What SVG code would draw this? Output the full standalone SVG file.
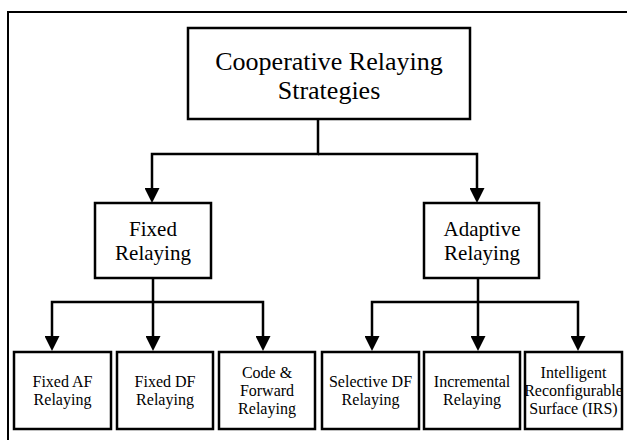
<svg xmlns="http://www.w3.org/2000/svg" width="627" height="440" viewBox="0 0 627 440">
  <style>
    .box { fill: #ffffff; stroke: #000000; stroke-width: 2.5; }
    .frame { fill: none; stroke: #000000; stroke-width: 2; }
    .link { fill: none; stroke: #000000; stroke-width: 2.5; marker-end: url(#arrow); }
    .plain { fill: none; stroke: #000000; stroke-width: 2.5; }
    text { fill: #000000; text-anchor: middle; }
    .t1 { font-size: 26px; }
    .t2 { font-size: 21px; }
    .t3 { font-size: 16px; }
  </style>
  <defs>
    <marker id="arrow" viewBox="0 0 15 15" refX="7" refY="7.5" markerWidth="15" markerHeight="15" markerUnits="userSpaceOnUse" orient="auto">
      <path d="M0,0 L15,7.5 L0,15 z" fill="#000000"/>
    </marker>
  </defs>

  <rect width="627" height="440" fill="#ffffff"/>
  <!-- border of the figure (left and top edges) -->
  <path class="frame" d="M8,440 V12 H627"/>

  <!-- connectors -->
  <g id="connectors">
    <path class="link" d="M318,119 V154 H152 V195"/>
    <path class="link" d="M318,154 H477 V195"/>
    <path class="plain" d="M153,278 V302"/>
    <path class="link" d="M153,302 H52 V343"/>
    <path class="link" d="M153,302 V343"/>
    <path class="link" d="M153,302 H263 V343"/>
    <path class="plain" d="M478,278 V302"/>
    <path class="link" d="M478,302 H372 V343"/>
    <path class="link" d="M478,302 V343"/>
    <path class="link" d="M478,302 H578 V343"/>
  </g>

  <g font-family="'Liberation Serif', 'DejaVu Serif', serif">
  <g id="root">
    <rect class="box" x="188" y="28" width="282" height="91"/>
    <text class="t1" x="329" y="70">Cooperative Relaying</text>
    <text class="t1" x="329" y="99">Strategies</text>
  </g>

  <g id="fixed">
    <rect class="box" x="95" y="203" width="116" height="75"/>
    <text class="t2" x="153" y="236">Fixed</text>
    <text class="t2" x="153" y="260">Relaying</text>
  </g>

  <g id="adaptive">
    <rect class="box" x="424" y="203" width="115" height="75"/>
    <text class="t2" x="482" y="236">Adaptive</text>
    <text class="t2" x="482" y="260">Relaying</text>
  </g>

  <g id="fixed-af">
    <rect class="box" x="14" y="352" width="97" height="77"/>
    <text class="t3" x="62.5" y="387">Fixed AF</text>
    <text class="t3" x="62.5" y="405">Relaying</text>
  </g>

  <g id="fixed-df">
    <rect class="box" x="117" y="352" width="96" height="77"/>
    <text class="t3" x="165" y="387">Fixed DF</text>
    <text class="t3" x="165" y="405">Relaying</text>
  </g>

  <g id="code-forward">
    <rect class="box" x="219" y="352" width="96" height="77"/>
    <text class="t3" x="267" y="378">Code &amp;</text>
    <text class="t3" x="267" y="396">Forward</text>
    <text class="t3" x="267" y="414">Relaying</text>
  </g>

  <g id="selective-df">
    <rect class="box" x="322" y="352" width="97" height="77"/>
    <text class="t3" x="370.5" y="387">Selective DF</text>
    <text class="t3" x="370.5" y="405">Relaying</text>
  </g>

  <g id="incremental">
    <rect class="box" x="424" y="352" width="96" height="77"/>
    <text class="t3" x="472" y="387">Incremental</text>
    <text class="t3" x="472" y="405">Relaying</text>
  </g>

  <g id="irs">
    <rect class="box" x="525" y="352" width="97" height="77"/>
    <text class="t3" x="573.5" y="378">Intelligent</text>
    <text class="t3" x="573.5" y="396">Reconfigurable</text>
    <text class="t3" x="573.5" y="414">Surface (IRS)</text>
  </g>
  </g>
</svg>
